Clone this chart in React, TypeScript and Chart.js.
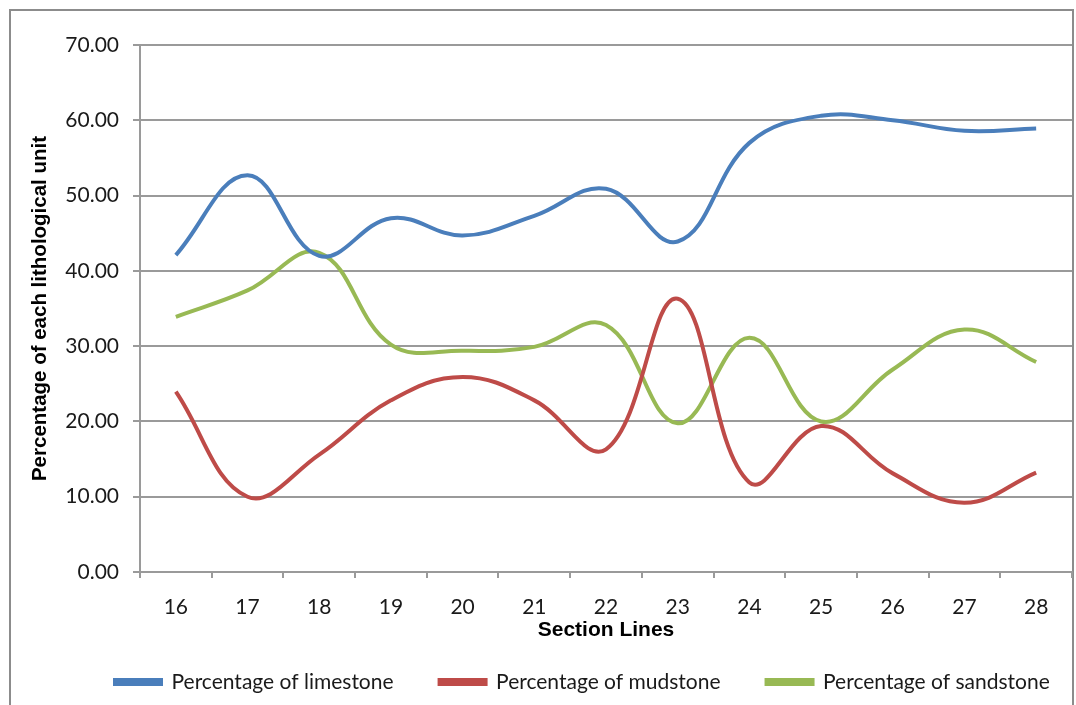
import React, { useEffect, useRef } from "react";
import { Chart, registerables } from "chart.js";

Chart.register(...registerables);

const categories = ["16", "17", "18", "19", "20", "21", "22", "23", "24", "25", "26", "27", "28"];
const limestone = [42.1, 52.7, 42.0, 47.0, 44.7, 47.3, 50.9, 43.9, 57.0, 60.6, 60.0, 58.6, 58.9];
const mudstone = [23.95, 10.0, 15.6, 22.8, 25.9, 22.8, 16.3, 36.3, 11.9, 19.4, 13.1, 9.2, 13.2];
const sandstone = [33.9, 37.4, 42.4, 30.2, 29.4, 29.9, 32.8, 19.75, 31.1, 20.0, 26.9, 32.2, 27.9];
const seriesNames = ["Percentage of limestone", "Percentage of mudstone", "Percentage of sandstone"];
const seriesColors = ["#4A7EBB", "#BE4B48", "#98B954"];
const yTitle = "Percentage of each lithological unit";
const xTitle = "Section Lines";

const LEGEND_PAD = 46;

// shift the bottom legend so its first entry starts where the reference's does
const legendShift = {
  id: "legendShift",
  afterLayout(chart: any) {
    if (chart.legend) {
      chart.legend.left = 115 - LEGEND_PAD;
      chart.legend.right = 1400;
    }
  },
};

export default function App() {
  const ref = useRef<HTMLCanvasElement>(null);
  useEffect(() => {
    if (!ref.current) return;
    const tickFont = { family: "Lato", size: 21 };
    const chart = new Chart(ref.current, {
      type: "line",
      data: {
        labels: categories,
        datasets: [limestone, mudstone, sandstone].map((d, i) => ({
          label: seriesNames[i],
          data: d,
          borderColor: seriesColors[i],
          backgroundColor: seriesColors[i],
          borderWidth: 4,
          pointRadius: 0,
          tension: 0.4,
          fill: false,
        })),
      },
      plugins: [legendShift],
      options: {
        responsive: false,
        animation: false,
        layout: { padding: { left: 10, right: 4, top: 45, bottom: 2.5 } },
        plugins: {
          tooltip: { enabled: false },
          legend: {
            position: "bottom",
            align: "start",
            labels: {
              boxWidth: 46,
              boxHeight: 4,
              padding: LEGEND_PAD,
              color: "#1a1a1a",
              font: { family: "Lato", size: 21 },
            },
          },
        },
        scales: {
          x: {
            offset: true,
            grid: {
              offset: true,
              drawOnChartArea: false,
              drawTicks: true,
              tickLength: 6,
              color: "#9a9a9a",
              lineWidth: 2,
            },
            border: { color: "#9a9a9a", width: 2 },
            ticks: { font: tickFont, color: "#1a1a1a", padding: 17, maxRotation: 0 },
            title: {
              display: true,
              text: xTitle,
              color: "#000",
              font: { family: "Liberation Sans", size: 21, weight: "bold" },
              padding: { top: 0, bottom: -17.1 },
            },
            afterFit: (s: any) => {
              s.height = 53.5;
            },
          },
          y: {
            min: 0,
            max: 70,
            ticks: {
              stepSize: 10,
              font: tickFont,
              color: "#1a1a1a",
              padding: 14,
              callback: (v: any) => Number(v).toFixed(2),
            },
            grid: { color: "#9a9a9a", lineWidth: 2, tickLength: 7 },
            border: { color: "#9a9a9a", width: 2 },
            title: {
              display: true,
              text: yTitle,
              color: "#000",
              font: { family: "Liberation Sans", size: 20.5, weight: "bold" },
              padding: { top: 17.7, bottom: 0 },
            },
            afterFit: (s: any) => {
              s.width = 130;
            },
          },
        },
      },
    });
    return () => chart.destroy();
  }, []);
  return (
    <div style={{ position: "fixed", left: 0, top: 0, width: 1076, height: 705, background: "#fff" }}>
      <div
        style={{
          position: "absolute",
          left: 9,
          top: 9,
          width: 1065,
          height: 800,
          border: "2px solid #8c8c8c",
          boxSizing: "border-box",
        }}
      />
      <canvas ref={ref} width={1076} height={705} style={{ position: "absolute", left: 0, top: 0 }} />
    </div>
  );
}
